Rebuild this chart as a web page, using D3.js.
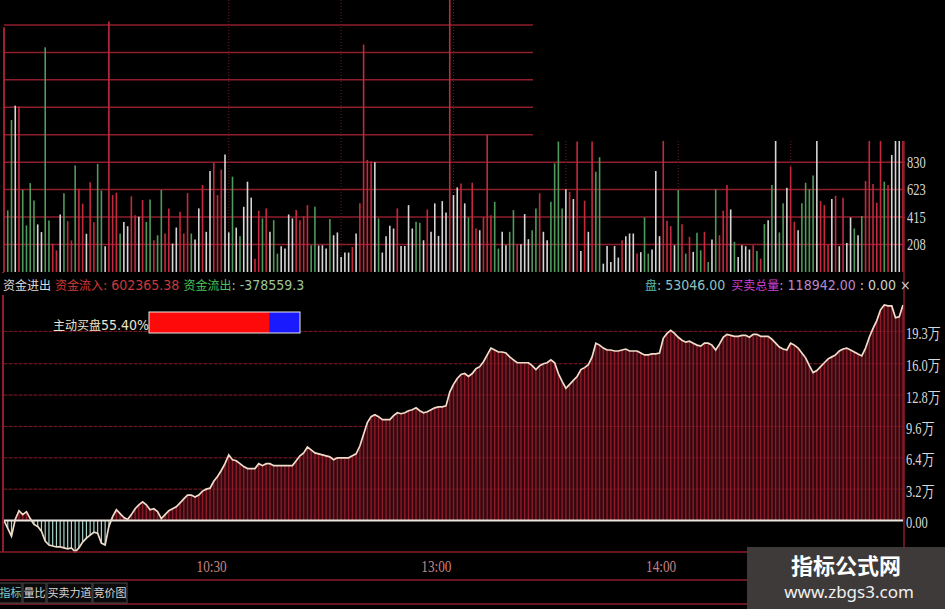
<!DOCTYPE html>
<html lang="zh">
<head>
<meta charset="UTF-8">
<title>资金进出</title>
<script src="https://d3js.org/d3.v7.min.js"></script>
<style>
  html, body { margin: 0; padding: 0; background: #000; overflow: hidden; }
  svg { display: block; background: #000; }
  .cn { font-family: "Noto Sans CJK SC", sans-serif; }
  .num { font-family: "Liberation Sans Narrow", "DejaVu Sans Condensed", sans-serif; }
  .axis { font-family: "Liberation Serif", "DejaVu Serif", serif; }
</style>
</head>
<body>
<svg id="chart"></svg>
<script>
// per-minute volume (9:30 .. 15:00) and bar direction r=up g=down w=flat
const volumes = [
  1850, 466, 1150, 1258, 1251, 621, 352, 672, 541, 360,
  302, 1699, 390, 214, 164, 435, 596, 385, 239, 805,
  629, 516, 289, 679, 377, 818, 616, 194, 1895, 582,
  600, 291, 379, 346, 572, 430, 417, 544, 379, 549,
  240, 278, 620, 291, 481, 215, 336, 455, 291, 597,
  291, 245, 481, 658, 304, 764, 827, 582, 775, 888,
  300, 721, 336, 271, 493, 683, 562, 101, 463, 405,
  481, 304, 392, 139, 195, 177, 435, 405, 468, 392,
  422, 506, 202, 493, 200, 202, 177, 400, 278, 299,
  114, 147, 147, 190, 291, 519, 1720, 848, 835, 830,
  405, 147, 271, 349, 329, 481, 197, 197, 506, 329,
  380, 372, 240, 473, 304, 519, 273, 536, 450, 2100,
  582, 640, 670, 519, 412, 675, 329, 316, 417, 1037,
  430, 531, 177, 304, 202, 304, 468, 210, 210, 438,
  248, 316, 481, 595, 304, 240, 531, 822, 987, 481,
  625, 607, 552, 987, 159, 539, 304, 987, 759, 868,
  63, 197, 76, 197, 109, 240, 271, 291, 291, 139,
  150, 412, 139, 170, 764, 271, 1100, 387, 347, 202,
  620, 362, 139, 266, 152, 296, 164, 304, 76, 245,
  625, 278, 463, 658, 473, 228, 114, 202, 195, 170,
  202, 159, 101, 362, 392, 658, 1100, 299, 519, 638,
  797, 380, 316, 519, 675, 625, 729, 1100, 536, 506,
  207, 552, 577, 195, 562, 220, 412, 329, 278, 423,
  688, 1100, 665, 524, 1100, 683, 658, 885, 1100, 1100, 1100
];
const volDir = (
  "rggwrggggw" + "wggrrwgrrg" + "rrwrrggwrr" + "rgwwrrwrgg" +
  "rggrrwwrrr" + "gwwrwwrrrw" + "wgwgwwwrrg" + "rwggwwwwrr" +
  "rrggwwwgww" + "wwwrwrrrrw" + "gwwwwrwwww" + "ggwrwwwwwr" +
  "wwrwgrrwrr" + "rggwwggrww" + "wggrwwgggg" + "wrwrwrwrgg" +
  "wwwwwrwwwr" + "wggwwwrrrw" + "grgrwggrgw" + "grrrwgwwww" +
  "rgrgwgwggw" + "rrwggggwrr" + "rwrwrwwgwg" + "rrrrrgrwwwr"
).split("");

// cumulative money flow per minute, in 万
const flow = [
  0, -0.8, -1.6, 0.1, 1.0, 0.6, 0.9, 0.2, -0.4, -0.6,
  -1.1, -2.1, -2.5, -2.6, -2.7, -2.7, -2.8, -2.9, -2.8, -3.2,
  -2.8, -2.2, -1.8, -1.5, -1.2, -1.3, -2.3, -2.5, -0.6, 0.4,
  1.1, 0.7, 0.3, 0.1, 0.6, 1.2, 1.6, 1.9, 1.6, 1.1,
  1.2, 0.9, 0.2, 0.6, 1.0, 1.2, 1.4, 1.8, 2.2, 2.6,
  2.6, 2.4, 2.6, 3.0, 3.2, 3.3, 4.0, 4.5, 5.1, 5.8,
  6.7, 6.2, 6.1, 5.8, 5.5, 5.3, 5.3, 5.3, 5.8, 5.6,
  5.8, 5.8, 5.6, 5.6, 5.6, 5.6, 5.6, 5.6, 6.1, 6.6,
  6.9, 7.5, 7.2, 6.9, 6.8, 6.7, 6.6, 6.5, 6.2, 6.4,
  6.4, 6.4, 6.4, 6.6, 6.8, 7.6, 8.8, 10.0, 10.6, 10.8,
  10.6, 10.3, 10.3, 10.3, 10.7, 11.0, 10.9, 11.0, 11.2, 11.3,
  11.5, 11.2, 11.0, 11.1, 11.3, 11.5, 11.6, 11.6, 11.7, 13.1,
  13.9, 14.5, 14.9, 15.0, 14.7, 15.0, 15.5, 15.7, 16.2, 16.9,
  17.6, 17.4, 17.2, 17.2, 17.1, 16.7, 16.4, 16.1, 16.1, 16.1,
  16.1, 15.8, 15.4, 15.8, 16.0, 16.1, 16.4, 16.1, 15.0, 14.2,
  13.5, 13.9, 14.3, 14.7, 15.4, 15.6, 15.9, 16.7, 18.1, 17.9,
  17.6, 17.4, 17.4, 17.3, 17.3, 17.4, 17.5, 17.3, 17.3, 17.3,
  17.1, 16.9, 16.9, 17.0, 17.0, 17.1, 18.6, 19.1, 19.4, 19.1,
  18.7, 18.4, 18.2, 18.3, 18.1, 17.9, 17.8, 18.1, 18.1, 17.9,
  17.4, 18.0, 18.7, 19.0, 18.9, 18.8, 18.8, 18.9, 18.9, 18.7,
  19.0, 19.0, 18.8, 18.8, 18.8, 18.5, 18.1, 17.7, 17.5, 17.4,
  18.1, 17.9, 17.6, 17.1, 16.6, 15.8, 15.1, 15.3, 15.7, 16.1,
  16.5, 16.7, 16.9, 17.3, 17.5, 17.6, 17.4, 17.2, 17.0, 16.8,
  17.6, 18.7, 19.6, 20.4, 21.5, 22.0, 21.9, 21.9, 20.7, 20.8, 22.0
];

const volTicks = [208, 415, 623, 830, 1038, 1245, 1453, 1660, 1868];
const volTickLabels = ["208", "415", "623", "830", "1038"];
const flowTicks = [0, 3.2, 6.4, 9.6, 12.8, 16.0, 19.3];
const flowTickLabels = ["0.00", "3.2万", "6.4万", "9.6万", "12.8万", "16.0万", "19.3万"];
const gridMinutes = [60, 90, 120, 150, 180, 210];
const timeTicks = [60, 120, 180];
const timeLabels = ["10:30", "13:00", "14:00"];
const tabs = ["指标", "量比", "买卖力道", "竞价图"];
const buyBar = [80, 20];   // red / blue share of the 主动买盘 strip

const W = 945, H = 609;
const svg = d3.select("#chart").attr("width", W).attr("height", H);

const gridRed = "#8e1e2c";
const x = d3.scaleLinear().domain([0, 240]).range([4, 903]);
const yVol = d3.scaleLinear().domain([0, 2057]).range([272, 0]).clamp(true);
const yFlow = d3.scaleLinear().domain([0, 19.3]).range([520.5, 331.4]);

// narrow axis label: squeeze horizontally like the bitmap font of the original
function narrowLabel(g, xPos, yPos, size, fill, anchor) {
  return g.attr("class", "axis")
    .attr("transform", (d, i) => `translate(${xPos(d, i)},${yPos(d, i)}) scale(0.78,1)`)
    .attr("dy", "0.35em")
    .attr("text-anchor", anchor || "start")
    .attr("font-size", size)
    .attr("fill", fill);
}

// ---- volume panel ----
svg.append("g").selectAll("line").data(volTicks).join("line")
  .attr("x1", 4).attr("x2", 905)
  .attr("y1", d => yVol(d)).attr("y2", d => yVol(d))
  .attr("stroke", gridRed).attr("stroke-width", 1.5);

svg.append("g").selectAll("line").data(gridMinutes).join("line")
  .attr("x1", d => x(d)).attr("x2", d => x(d))
  .attr("y1", 0).attr("y2", 272)
  .attr("stroke", "#6e1822").attr("stroke-width", 1)
  .attr("stroke-dasharray", "1,2");

const barColor = { r: "#c42a3e", g: "#4f9a5c", w: "#d6d6d6" };
svg.append("g").selectAll("line").data(volumes).join("line")
  .attr("x1", (d, i) => x(i)).attr("x2", (d, i) => x(i))
  .attr("y1", yVol(0)).attr("y2", d => yVol(d))
  .attr("stroke", (d, i) => barColor[volDir[i]])
  .attr("stroke-width", 1.6);

narrowLabel(
  svg.append("g").selectAll("text").data(volTickLabels).join("text"),
  () => 907, (d, i) => yVol(volTicks[i]), 16, "#d8d8d8"
).text(d => d);

// the top-right corner of the screenshot is blacked out
svg.append("rect").attr("x", 533).attr("y", 0)
  .attr("width", W - 533).attr("height", 141).attr("fill", "#000");

// ---- money flow panel ----
svg.append("g").selectAll("line").data(flowTicks.slice(1)).join("line")
  .attr("x1", 4).attr("x2", 903)
  .attr("y1", d => yFlow(d)).attr("y2", d => yFlow(d))
  .attr("stroke", "#5e141c").attr("stroke-width", 1)
  .attr("stroke-dasharray", "3,2");

svg.append("path").datum(flow)
  .attr("d", d3.area().x((d, i) => x(i)).y0(yFlow(0)).y1(d => yFlow(Math.max(d, 0))))
  .attr("fill", "#32080e");

svg.append("g").selectAll("line").data(flow).join("line")
  .attr("x1", (d, i) => x(i)).attr("x2", (d, i) => x(i))
  .attr("y1", yFlow(0)).attr("y2", d => yFlow(d))
  .attr("stroke", d => d >= 0 ? "#8e1a28" : "#a6d6cc")
  .attr("stroke-width", d => d >= 0 ? 1.4 : 1.2);

svg.append("g").selectAll("line").data(flowTicks.slice(1)).join("line")
  .attr("x1", 4).attr("x2", 903)
  .attr("y1", d => yFlow(d)).attr("y2", d => yFlow(d))
  .attr("stroke", "#c02838").attr("stroke-width", 1).attr("opacity", 0.3);

svg.append("line")
  .attr("x1", x(0)).attr("x2", x(240))
  .attr("y1", yFlow(0)).attr("y2", yFlow(0))
  .attr("stroke", "#ece6e0").attr("stroke-width", 2);

svg.append("path").datum(flow)
  .attr("d", d3.line().x((d, i) => x(i)).y(d => yFlow(d)))
  .attr("fill", "none").attr("stroke", "#f0dcc8").attr("stroke-width", 1.7);

narrowLabel(
  svg.append("g").selectAll("text").data(flowTickLabels).join("text"),
  () => 906, (d, i) => yFlow(flowTicks[i]) + 2, 16, "#d8d8d8"
).text(d => d);

// borders
svg.append("line").attr("x1", 3).attr("x2", 3).attr("y1", 272).attr("y2", 552)
  .attr("stroke", gridRed).attr("stroke-width", 2);
svg.append("line").attr("x1", 904).attr("x2", 904).attr("y1", 141).attr("y2", 552)
  .attr("stroke", gridRed).attr("stroke-width", 1.5);

// ---- header texts ----
function runText(x0, y0, parts) {
  const t = svg.append("text").attr("x", x0).attr("y", y0);
  parts.forEach(p => t.append("tspan")
    .attr("class", p.cn ? "cn" : "num")
    .attr("font-size", p.cn ? 12 : 14)
    .attr("fill", p.c)
    .attr("dx", p.dx || 0)
    .text(p.t));
}
svg.append("rect").attr("x", 0).attr("y", 273).attr("width", 903).attr("height", 22).attr("fill", "#000");
runText(3, 290, [
  { t: "资金进出", c: "#dcdcdc", cn: true },
  { t: "资金流入", c: "#d23a3a", cn: true, dx: 4 },
  { t: ": 602365.38", c: "#c83a3a" },
  { t: "资金流出", c: "#46c45a", cn: true, dx: 4 },
  { t: ": -378559.3", c: "#9cc49c" }
]);
runText(645, 290, [
  { t: "盘", c: "#5ab8b8", cn: true },
  { t: ": 53046.00", c: "#8ec0c0" },
  { t: "买卖总量", c: "#d040d0", cn: true, dx: 6 },
  { t: ": 118942.00", c: "#b888cc" },
  { t: " : 0.00 ×", c: "#d0d0d0" }
]);
runText(53, 330, [
  { t: "主动买盘", c: "#ece4cc", cn: true },
  { t: "55.40%", c: "#ece4cc" }
]);

const xb = d3.scaleLinear().domain([0, 100]).range([149, 300]);
const segs = d3.cumsum(buyBar);
svg.append("g").selectAll("rect").data(buyBar).join("rect")
  .attr("x", (d, i) => xb(segs[i] - d)).attr("width", d => xb(d) - xb(0))
  .attr("y", 312).attr("height", 21)
  .attr("fill", (d, i) => i === 0 ? "#ff0a0a" : "#1a1aff");
svg.append("rect").attr("x", 149).attr("y", 312).attr("width", 151).attr("height", 21)
  .attr("fill", "none").attr("stroke", "#e8e8e8").attr("stroke-width", 1);

// ---- time axis and tabs ----
[552, 580, 604].forEach(yy => svg.append("line")
  .attr("x1", 0).attr("x2", W).attr("y1", yy).attr("y2", yy)
  .attr("stroke", gridRed).attr("stroke-width", 1.5));

narrowLabel(
  svg.append("g").selectAll("text").data(timeTicks).join("text"),
  d => x(d) - 2, () => 566, 17, "#c88080", "end"
).text((d, i) => timeLabels[i]);

let tx = -1;
tabs.forEach((t, i) => {
  const w = t.length * 11 + 1;
  svg.append("rect").attr("x", tx).attr("y", 583).attr("width", w).attr("height", 20)
    .attr("fill", "#0a0a0a").attr("stroke", "#4a4a4a");
  svg.append("text").attr("class", "cn").attr("x", tx + w / 2).attr("y", 597)
    .attr("text-anchor", "middle").attr("font-size", 11)
    .attr("fill", i === 0 ? "#7ccccc" : "#d8d8d8").text(t);
  tx += w + 1;
});

// watermark
svg.append("rect").attr("x", 747).attr("y", 547).attr("width", W - 747).attr("height", H - 547)
  .attr("fill", "#3e3a3a");
svg.append("text").attr("class", "cn").attr("x", 846).attr("y", 574)
  .attr("text-anchor", "middle").attr("font-size", 22).attr("font-weight", "bold")
  .attr("fill", "#ffffff").text("指标公式网");
svg.append("text").attr("x", 849).attr("y", 598)
  .attr("text-anchor", "middle").attr("font-size", 17)
  .attr("font-family", "'Noto Sans', sans-serif")
  .attr("fill", "#f0f0f0").text("www.zbgs3.com");
</script>
</body>
</html>
